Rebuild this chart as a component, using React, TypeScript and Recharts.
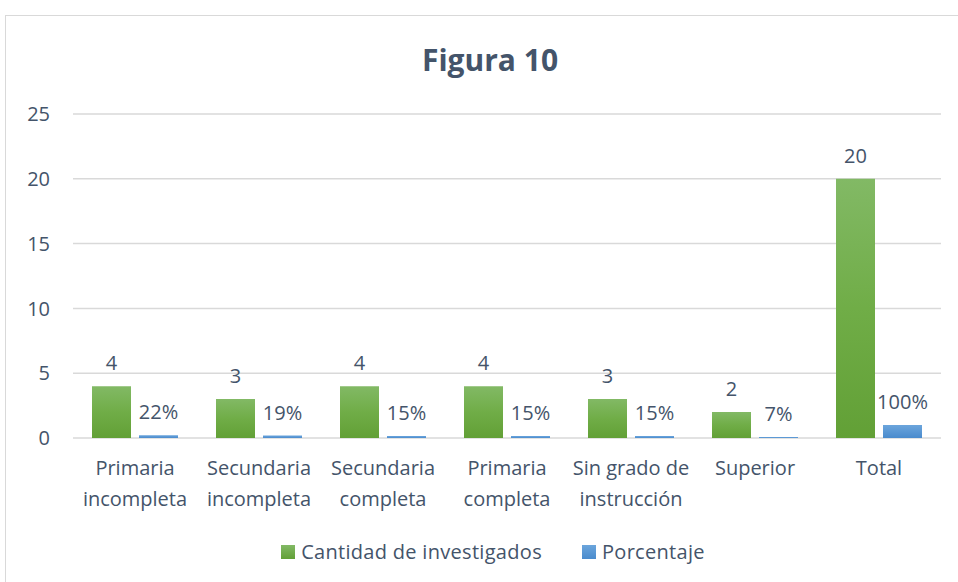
import { BarChart, Bar, XAxis, YAxis, CartesianGrid, LabelList } from 'recharts';

const categories = [
  'Primaria\nincompleta',
  'Secundaria\nincompleta',
  'Secundaria\ncompleta',
  'Primaria\ncompleta',
  'Sin grado de\ninstrucción',
  'Superior',
  'Total',
];
const cantidad = [4, 3, 4, 4, 3, 2, 20];
const porcentaje = [0.22, 0.19, 0.15, 0.15, 0.15, 0.07, 1];
const yTicks = [0, 5, 10, 15, 20, 25];

const FONT = '"Open Sans", sans-serif';
const TEXT = '#44546a';
const FS = 20;

const data = categories.map((name, i) => ({
  name,
  cantidad: cantidad[i],
  porcentaje: porcentaje[i],
}));

const CategoryTick = (props: any) => {
  const { x, y, payload } = props;
  const lines = String(payload.value).split('\n');
  return (
    <text x={x} y={y} textAnchor="middle" fill={TEXT} fontSize={FS} fontFamily={FONT}>
      {lines.map((line, i) => (
        <tspan key={i} x={x} dy={i === 0 ? 29 : 31}>
          {line}
        </tspan>
      ))}
    </text>
  );
};

const LegendSwatch = ({ from, to, label }: { from: string; to: string; label: string }) => (
  <div style={{ display: 'flex', alignItems: 'center', marginRight: 40 }}>
    <div style={{ width: 14, height: 14, background: `linear-gradient(${from}, ${to})`, marginRight: 6 }} />
    <span style={{ color: TEXT, fontSize: FS, fontFamily: FONT, letterSpacing: 0.3 }}>{label}</span>
  </div>
);

export default function App() {
  return (
    <div style={{ position: 'absolute', left: 0, top: 0, width: 958, height: 582, overflow: 'hidden', background: '#fff' }}>
      <div style={{ position: 'absolute', left: 5, top: 15, width: 980, height: 600, border: '1.5px solid #d9d9d9', boxSizing: 'border-box' }} />
      <div style={{ position: 'absolute', left: 0, top: 39, width: 980, textAlign: 'center', color: TEXT, fontFamily: FONT, fontWeight: 700, fontSize: 30 }}>
        Figura 10
      </div>
      <div style={{ position: 'absolute', left: 0, top: 0 }}>
        <BarChart
          width={958}
          height={582}
          data={data}
          margin={{ top: 114, right: 17, bottom: 0, left: 0 }}
          barGap={8}
        >
          <defs>
            <linearGradient id="gGreen" x1="0" y1="0" x2="0" y2="1">
              <stop offset="0%" stopColor="#82b965" />
              <stop offset="50%" stopColor="#70ad47" />
              <stop offset="100%" stopColor="#62a036" />
            </linearGradient>
            <linearGradient id="gBlue" x1="0" y1="0" x2="0" y2="1">
              <stop offset="0%" stopColor="#6ba5dc" />
              <stop offset="100%" stopColor="#4a8bcd" />
            </linearGradient>
          </defs>
          <CartesianGrid vertical={false} stroke="#d9d9d9" strokeWidth={1.5} />
          <XAxis
            dataKey="name"
            axisLine={false}
            tickLine={false}
            interval={0}
            tick={<CategoryTick />}
            height={144}
          />
          <YAxis
            domain={[0, 25]}
            ticks={yTicks}
            axisLine={false}
            tickLine={false}
            tickMargin={17}
            width={73}
            tick={{ fill: TEXT, fontSize: FS, fontFamily: FONT }}
          />
          <Bar dataKey="cantidad" fill="url(#gGreen)" barSize={39} isAnimationActive={false}>
            <LabelList dataKey="cantidad" position="top" offset={16} fill={TEXT} fontSize={FS} fontFamily={FONT} />
          </Bar>
          <Bar dataKey="porcentaje" fill="url(#gBlue)" barSize={39} isAnimationActive={false}>
            <LabelList
              dataKey="porcentaje"
              position="top"
              offset={16}
              fill={TEXT}
              fontSize={FS}
              fontFamily={FONT}
              formatter={(v: any) => `${Math.round(Number(v) * 100)}%`}
            />
          </Bar>
        </BarChart>
      </div>
      <div style={{ position: 'absolute', left: 0, top: 538, width: 1026, display: 'flex', justifyContent: 'center' }}>
        <LegendSwatch from="#82b965" to="#62a036" label="Cantidad de investigados" />
        <LegendSwatch from="#6ba5dc" to="#4a8bcd" label="Porcentaje" />
      </div>
    </div>
  );
}
